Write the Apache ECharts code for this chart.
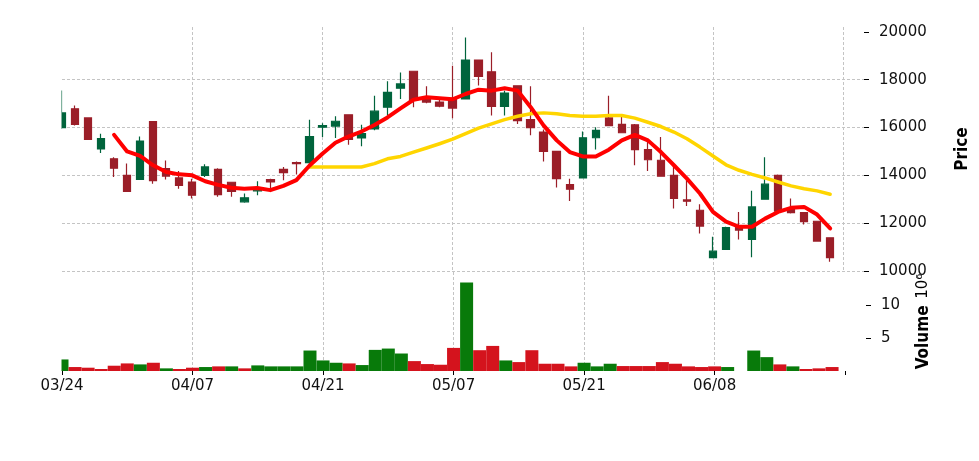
<!DOCTYPE html>
<html>
<head>
<meta charset="utf-8">
<script src="https://cdn.jsdelivr.net/npm/echarts@6/dist/echarts.min.js"></script>
<style>
  html, body { margin: 0; padding: 0; background: #ffffff; }
  #main { width: 979px; height: 461px; }
</style>
</head>
<body>
<div id="main"></div>
<script>
// ---- data ----
const dates = [
  '03/24','03/25','03/26','03/27','03/28','03/31','04/01','04/02','04/03','04/04',
  '04/07','04/08','04/09','04/10','04/11','04/14','04/15','04/16','04/17','04/18',
  '04/21','04/22','04/23','04/24','04/25','04/28','04/29','04/30','05/01','05/02',
  '05/07','05/08','05/09','05/12','05/13','05/14','05/15','05/16','05/19','05/20',
  '05/21','05/22','05/23','05/26','05/27','05/28','05/29','05/30','06/02','06/05',
  '06/08','06/09','06/10','06/11','06/12','06/13','06/16','06/17','06/18','06/19'
];
const opens = [
  15990,16780,16400,15100,14690,14000,13830,16250,14280,13890,
  13720,14000,14250,13710,12890,13350,13820,14250,14530,14530,
  16010,16060,16530,15560,15940,16850,17640,18350,17170,17060,
  17220,17190,18820,18330,16880,17740,16330,15810,15000,13610,
  13890,15570,16400,16130,16110,15070,14630,14000,12970,12540,
  10560,10900,11810,11320,13000,14000,12640,12440,12080,11390
];
const closes = [
  16610,16130,15500,15530,14300,13330,15430,13780,13970,13580,
  13170,14350,13190,13330,13060,13440,13720,14110,14490,15620,
  16080,16260,15500,15740,16680,17470,17820,17130,17060,16890,
  16810,18820,18130,16880,17440,16290,15990,15000,13860,13420,
  15570,15880,16080,15780,15070,14650,13960,13030,12920,11880,
  10830,11810,11710,12680,13630,12500,12440,12060,11250,10560
];
const lows = [
  15950,16080,15480,14930,13930,13300,13830,13650,13830,13440,
  13030,13930,13100,13100,12850,13170,13440,13790,14030,14440,
  15600,15560,15280,15220,15880,16500,17190,16850,17010,16850,
  16390,17190,17750,16500,16500,16140,15670,14580,13490,12930,
  13890,15080,16060,15760,14420,14180,13940,12610,12720,11570,
  10540,10890,11320,10570,12990,12490,12400,11940,11240,10390
];
const highs = [
  17550,16920,16420,15740,14760,14490,15620,16260,14620,14180,
  13860,14460,14300,13720,13240,13750,13860,14350,14580,16320,
  16180,16470,16540,16110,17330,17930,18300,18350,17720,17190,
  18580,19760,18820,19140,17540,17740,17720,15920,15000,13860,
  15830,16010,17330,16460,16150,15460,15600,14420,13790,12790,
  11430,11850,12470,13350,14760,14030,13030,12450,12090,11400
];
// volume in units of 10^6
const volumes = [
  1.75,0.6,0.5,0.3,0.8,1.15,1.0,1.25,0.4,0.3,
  0.5,0.6,0.7,0.7,0.4,0.85,0.7,0.7,0.7,3.1,
  1.6,1.25,1.15,0.9,3.2,3.4,2.65,1.5,1.05,0.95,
  3.5,13.4,3.15,3.8,1.6,1.35,3.15,1.1,1.1,0.7,
  1.25,0.7,1.1,0.75,0.75,0.75,1.35,1.1,0.7,0.6,
  0.7,0.6,0,3.1,2.1,1.0,0.7,0.3,0.4,0.6
];
// 1 = up (green) volume bar, 0 = down (red)
const volUp = [
  1,0,0,0,0,0,1,0,1,0,
  0,1,0,1,0,1,1,1,1,1,
  1,1,0,1,1,1,1,0,0,0,
  0,1,0,0,1,0,0,0,0,0,
  1,1,1,0,0,0,0,0,0,0,
  0,1,1,1,1,0,1,0,0,0
];
const ma5Start = 4;
const ma5 = [
  15690,15000,14810,14420,14140,14040,14000,13750,13600,13480,
  13440,13470,13380,13560,13800,14400,14900,15360,15620,15830,
  16100,16420,16800,17160,17260,17220,17180,17400,17580,17540,
  17640,17540,16850,16080,15460,14970,14790,14790,15070,15460,
  15690,15460,14970,14420,13860,13240,12470,12060,11850,11850,
  12190,12470,12640,12680,12360,11780
];
const ma20Start = 19;
const ma20 = [
  14350,14350,14350,14350,14350,14490,14690,14790,14970,15140,
  15320,15510,15740,15970,16150,16330,16470,16570,16610,16570,
  16500,16470,16470,16500,16500,16390,16220,16040,15810,15530,
  15180,14810,14440,14210,14040,13890,13720,13560,13440,13350,
  13210
];
const priceTicks = [10000, 12000, 14000, 16000, 18000, 20000];
const volumeTicks = [5, 10];
const xTickIdx = [0, 10, 20, 30, 40, 50, 60];
const xLabelIdx = [0, 10, 20, 30, 40, 50];

// ---- styling ----
const FONT = "'DejaVu Sans', 'Liberation Sans', sans-serif";
const BOLDFONT = "'DejaVu Sans Condensed', 'Liberation Sans Narrow', 'DejaVu Sans', sans-serif";
const UP = '#00643c', DOWN = '#9b1e28';
const VUP = '#087a0a', VDOWN = '#d4131d';
const GRIDC = '#c4c4c4';
const PLOT_LEFT = 62;
const gridLine = { show: true, showMinLine: false, showMaxLine: false,
  lineStyle: { color: GRIDC, width: 1, type: [3, 2] } };

const chart = echarts.init(document.getElementById('main'));
const xCommon = {
  type: 'value', min: 0, max: 61.6, interval: 10,
  axisLine: { show: false, onZero: false },
  splitLine: gridLine
};
chart.setOption({
  animation: false,
  backgroundColor: '#ffffff',
  grid: [
    { left: PLOT_LEFT, right: 113, top: 27, height: 244 },
    { left: PLOT_LEFT, right: 113, top: 272, height: 99 }
  ],
  // clip marks that spill past the left edge of the plotting area
  graphic: [{
    type: 'rect', left: 0, top: 0, z: 100, silent: true,
    shape: { width: PLOT_LEFT - 0.5, height: 371 },
    style: { fill: '#ffffff' }
  }],
  xAxis: [
    Object.assign({}, xCommon, {
      gridIndex: 0,
      axisTick: { show: false },
      axisLabel: { show: false }
    }),
    Object.assign({}, xCommon, {
      gridIndex: 1,
      axisTick: { show: true, length: 4, customValues: xTickIdx,
        lineStyle: { color: '#000', width: 1 } },
      axisLabel: { show: true, customValues: xLabelIdx, margin: 8,
        color: '#111', fontFamily: FONT, fontSize: 15,
        formatter: v => dates[Math.round(v)] || '' }
    })
  ],
  yAxis: [
    {
      gridIndex: 0, type: 'value', position: 'right',
      min: 10000, max: 20200, interval: 2000,
      axisLine: { show: false, onZero: false },
      axisTick: { show: true, length: 5, customValues: priceTicks,
        lineStyle: { color: '#000', width: 1 } },
      axisLabel: { customValues: priceTicks, margin: 15, color: '#111',
        fontFamily: FONT, fontSize: 15, formatter: v => String(Math.round(v)) },
      splitLine: { show: true, showMaxLine: false,
        lineStyle: { color: GRIDC, width: 1, type: [3, 2] } },
      name: 'Price', nameLocation: 'middle', nameRotate: 90, nameGap: 90,
      nameTextStyle: { fontFamily: BOLDFONT, fontWeight: 'bold', fontSize: 17, color: '#000' }
    },
    {
      gridIndex: 1, type: 'value', position: 'right',
      min: 0, max: 15, interval: 5,
      axisLine: { show: false, onZero: false },
      axisTick: { show: true, length: 5, customValues: volumeTicks,
        lineStyle: { color: '#000', width: 1 } },
      axisLabel: { customValues: volumeTicks, margin: 15, color: '#111',
        fontFamily: FONT, fontSize: 15, formatter: v => String(Math.round(v)) },
      splitLine: gridLine,
      name: '{v|Volume}  {e|10⁶}', nameLocation: 'middle', nameRotate: 90, nameGap: 49,
      nameTextStyle: {
        rich: {
          v: { fontFamily: BOLDFONT, fontWeight: 'bold', fontSize: 17, color: '#000' },
          e: { fontFamily: FONT, fontSize: 15, color: '#000' }
        }
      }
    }
  ],
  series: [
    {
      type: 'candlestick', xAxisIndex: 0, yAxisIndex: 0, clip: true,
      encode: { x: 0, y: [1, 2, 3, 4] },
      barWidth: 8,
      data: opens.map((o, i) => [i, o, closes[i], lows[i], highs[i]]),
      itemStyle: { color: UP, color0: DOWN, borderColor: UP, borderColor0: DOWN, borderWidth: 1.2 }
    },
    {
      type: 'line', xAxisIndex: 0, yAxisIndex: 0, z: 5, clip: true,
      showSymbol: false, symbol: 'none',
      data: ma20.map((v, k) => [k + ma20Start, v]),
      lineStyle: { color: '#ffd500', width: 3.5, cap: 'round', join: 'round' }
    },
    {
      type: 'line', xAxisIndex: 0, yAxisIndex: 0, z: 6, clip: true,
      showSymbol: false, symbol: 'none',
      data: ma5.map((v, k) => [k + ma5Start, v]),
      lineStyle: { color: '#ff0000', width: 4, cap: 'round', join: 'round' }
    },
    {
      type: 'bar', xAxisIndex: 1, yAxisIndex: 1, barWidth: 13, clip: true,
      data: volumes.map((v, i) => ({ value: [i, v],
        itemStyle: { color: volUp[i] ? VUP : VDOWN } }))
    }
  ]
});
</script>
</body>
</html>
